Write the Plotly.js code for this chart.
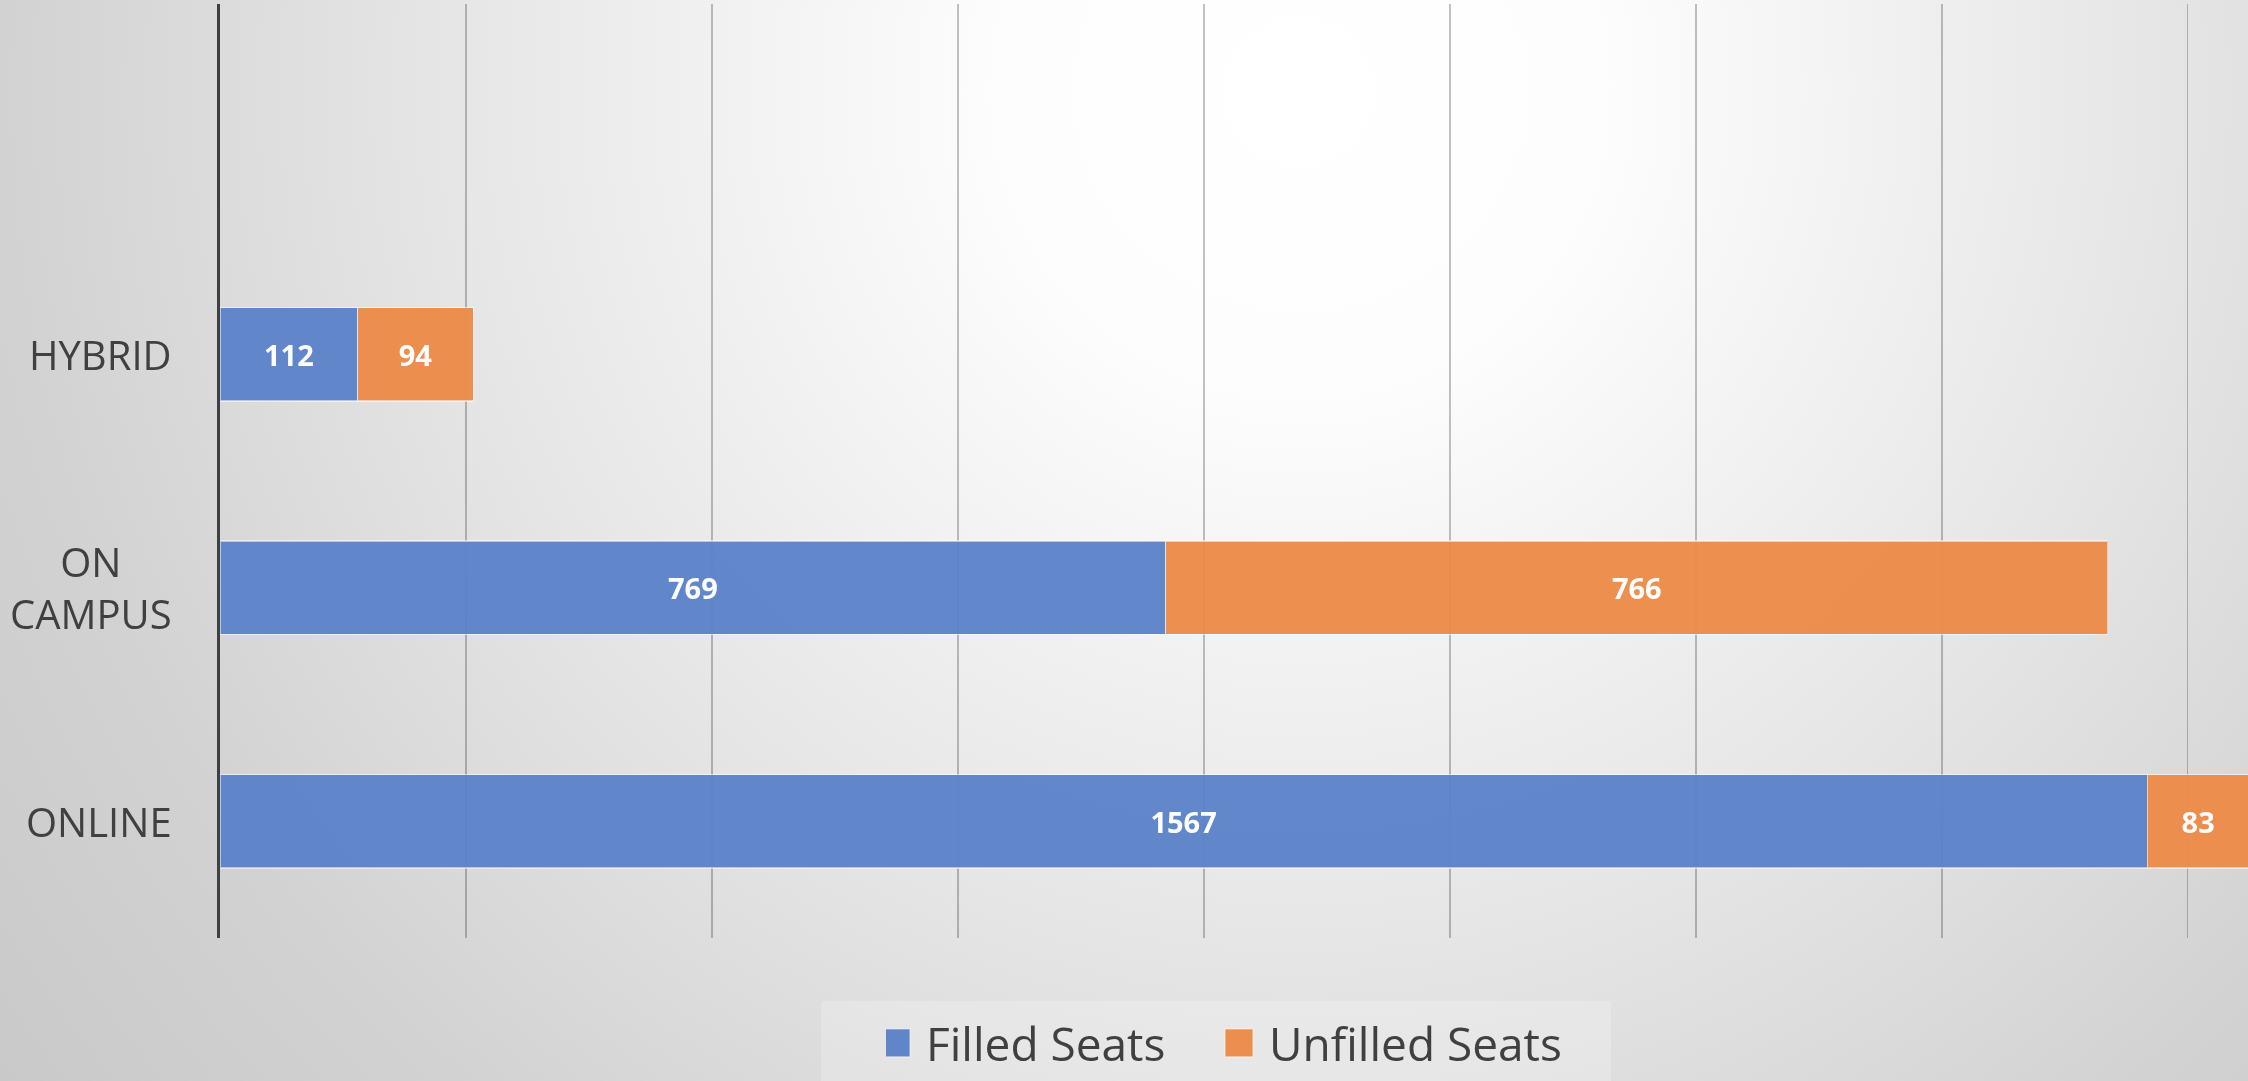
<!DOCTYPE html>
<html>
<head>
<meta charset="utf-8">
<script src="https://cdn.plot.ly/plotly-3.0.1.min.js"></script>
<style>
  html, body { margin: 0; padding: 0; }
  body {
    width: 2248px; height: 1081px; overflow: hidden;
    background: radial-gradient(circle at 1300px 90px, #ffffff 0px, #fdfdfd 300px, #e6e6e6 850px, #d2d2d2 1300px, #c6c6c6 1750px);
  }
  #chart { width: 2248px; height: 1081px; }
</style>
</head>
<body>
<div id="chart"></div>
<script>
// ---- data ----
const categories = ['ONLINE', 'ON CAMPUS', 'HYBRID'];
const categoryLabels = ['ONLINE', 'ON<br>CAMPUS', 'HYBRID'];
const filledSeats = [1567, 769, 112];
const unfilledSeats = [83, 766, 94];
const seriesNames = ['Filled Seats', 'Unfilled Seats'];
const seriesColors = ['rgb(91,130,200)', 'rgb(237,139,72)'];

const labelFont = { family: 'Open Sans, sans-serif', size: 29, color: '#ffffff', weight: 'bold' };

function barTrace(name, values, color) {
  return {
    type: 'bar',
    orientation: 'h',
    name: name,
    y: categories,
    x: values,
    text: values.map(String),
    textposition: 'inside',
    insidetextanchor: 'middle',
    textfont: labelFont,
    constraintext: 'none',
    opacity: 0.96,
    marker: { color: color, line: { color: 'rgba(255,255,255,0.55)', width: 1.2 } },
    hoverinfo: 'skip'
  };
}

const traces = [
  barTrace(seriesNames[0], filledSeats, seriesColors[0]),
  barTrace(seriesNames[1], unfilledSeats, seriesColors[1])
];

const annotations = categories.map((c, i) => ({
  xref: 'paper', x: 0, xshift: -46, xanchor: 'right',
  yref: 'y', y: c, yanchor: 'middle',
  text: categoryLabels[i], align: 'center', showarrow: false,
  font: { family: 'Open Sans, sans-serif', size: 40, color: '#404040' }
}));

const layout = {
  width: 2248, height: 1081,
  margin: { l: 220, r: 0, t: 4, b: 143, pad: 0 },
  paper_bgcolor: 'rgba(0,0,0,0)',
  plot_bgcolor: 'rgba(0,0,0,0)',
  barmode: 'stack',
  bargap: 0.6,
  showlegend: true,
  legend: {
    orientation: 'h',
    xref: 'container', yref: 'container',
    x: 886 / 2248, xanchor: 'left',
    y: 1 - 1043 / 1081, yanchor: 'middle',
    bgcolor: 'rgba(0,0,0,0)',
    entrywidth: 298, entrywidthmode: 'pixels',
    font: { family: 'Open Sans, sans-serif', size: 46, color: '#404040' },
    traceorder: 'normal'
  },
  xaxis: {
    range: [0, 1649],
    dtick: 200, tick0: 0,
    showgrid: true, gridcolor: 'rgba(0,0,0,0.24)', gridwidth: 1.5,
    zeroline: false, showline: false, showticklabels: false, ticks: ''
  },
  yaxis: {
    type: 'category',
    categoryorder: 'array', categoryarray: categories,
    range: [-0.5, 3.5],
    showgrid: false, zeroline: false,
    showline: true, linecolor: '#404040', linewidth: 3,
    showticklabels: false, ticks: ''
  },
  shapes: [{
    type: 'rect', xref: 'paper', yref: 'paper', layer: 'below',
    x0: (821 - 220) / 2028, x1: (1611 - 220) / 2028,
    y0: -(1001 - 938) / 934, y1: -(1081 - 938) / 934 - 0.01,
    fillcolor: 'rgba(255,255,255,0.22)', line: { width: 0 }
  }],
  annotations: annotations
};

const gd = document.getElementById('chart');
function enlargeLegendSymbols() {
  gd.querySelectorAll('g.legendpoints path').forEach(p => {
    p.setAttribute('d', 'M4,14H-24V-14H4Z');
  });
}
Plotly.newPlot(gd, traces, layout, { displayModeBar: false, staticPlot: true }).then(() => {
  enlargeLegendSymbols();
  gd.on && gd.on('plotly_afterplot', enlargeLegendSymbols);
  setTimeout(enlargeLegendSymbols, 50);
  setTimeout(enlargeLegendSymbols, 400);
});
</script>
</body>
</html>
